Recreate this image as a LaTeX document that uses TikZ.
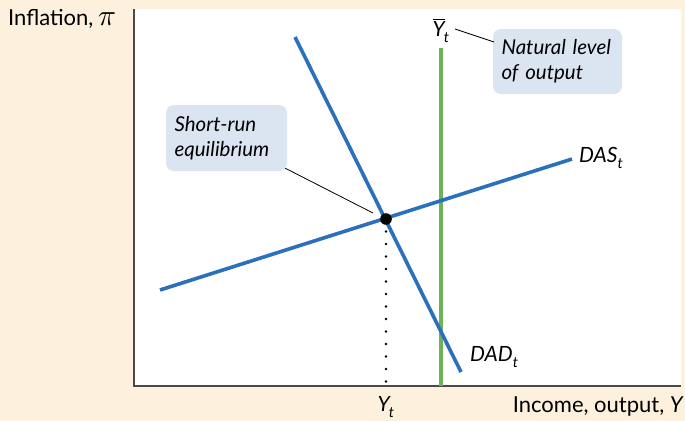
\documentclass[tikz,border=0pt]{standalone}
\usepackage{fontspec}
\setmainfont{Lato}
\usepackage{unicode-math}
\setmathfont{Latin Modern Math}
\definecolor{bgcream}{HTML}{FDF0DC}
\definecolor{curveblue}{HTML}{2B70BD}
\definecolor{natgreen}{HTML}{6CB35A}
\definecolor{boxblue}{HTML}{DAE5F1}
\definecolor{axisgray}{HTML}{4A4A4A}
\tikzset{
  curve/.style={curveblue, line width=3.6pt},
  callout/.style={fill=boxblue, rounded corners=8pt, align=left, font=\fontsize{20.5}{25}\selectfont\itshape, inner sep=0pt},
  leader/.style={black, line width=0.8pt},
  axlabel/.style={font=\fontsize{22}{26}\selectfont, inner sep=0pt},
  curvelabel/.style={font=\fontsize{21}{25}\selectfont\itshape, inner sep=0pt}
}
\begin{document}
\begin{tikzpicture}[x=1pt,y=-1pt]
\useasboundingbox (0,0) rectangle (685,421);
\fill[bgcream] (0,0) rectangle (685,421);
\fill[white] (134,9) rectangle (681,386);
% axes
\coordinate (origin) at (134,386);
\coordinate (ytop) at (134,9);
\coordinate (xend) at (681,386);
\draw[axisgray, line width=1.8pt] (ytop) -- (origin) -- (xend);
% natural level
\coordinate (nattop) at (441,48);
\coordinate (natbot) at (441,386);
\draw[natgreen, line width=3.6pt] (nattop) -- (natbot);
% curves
\coordinate (das0) at (160,290);
\coordinate (das1) at (572,159);
\coordinate (dad0) at (295,37);
\coordinate (dad1) at (461,372);
\draw[curve] (das0) -- (das1);
\draw[curve] (dad0) -- (dad1);
% equilibrium
\coordinate (eq) at (386,219);
\coordinate (eqbot) at (386,386);
\draw[black, line width=2.6pt, line cap=round, dash pattern=on 0pt off 12.5pt] (eq) -- (eqbot);
\fill[black] (eq) circle (5.8pt);
% labels
\node[axlabel, anchor=west] (ylab) at (8,19) {Inflation, \scalebox{1.35}{$\pi$}};
\node[axlabel, anchor=east] (xlab) at (684,406) {Income, output, \textit{Y}};
\node[curvelabel] (ytlab) at (386,407) {Y\textsubscript{\kern-1pt t}};
\node[curvelabel, anchor=west] (daslab) at (579,158) {DAS\textsubscript{t}};
\node[curvelabel, anchor=west] (dadlab) at (470,357) {DAD\textsubscript{t}};
\node[curvelabel] (ybarlab) at (441,30) {$\overline{\mbox{\itshape Y}}$\textsubscript{\kern-1pt t}};
% callouts
\node[callout, minimum width=129pt, minimum height=65pt, text width=112pt] (natbox) at (557.5,61.5) {Natural level\\of output};
\node[callout, minimum width=121pt, minimum height=66pt, text width=104pt] (srbox) at (226.5,138) {Short-run\\equilibrium};
\coordinate (srend) at (373,213);
\coordinate (natend) at (494,42);
\coordinate (ybarend) at (455,29);
\draw[leader] (ybarend) -- (natend);
\draw[leader] (srbox.south east) ++(-2,-3) -- (srend);
\end{tikzpicture}
\end{document}
